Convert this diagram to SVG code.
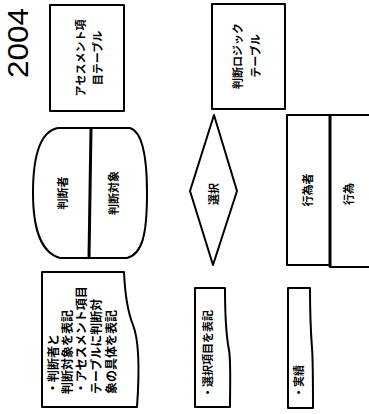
<svg xmlns="http://www.w3.org/2000/svg" width="369" height="414" viewBox="0 0 369 414">
<style>
.s{fill:#fff;stroke:#000;stroke-width:2;stroke-linejoin:round}
.t{font-family:"Noto Sans CJK JP","Noto Sans",sans-serif;font-weight:bold;font-size:11px;fill:#000;dominant-baseline:central;text-anchor:middle}
.ts{text-anchor:start}
.big{font-family:"Liberation Sans",Arial,sans-serif;font-size:29px;fill:#000}
</style>
<rect width="369" height="414" fill="#fff"/>
<text class="big" transform="translate(28,78) rotate(-90)" textLength="70" lengthAdjust="spacingAndGlyphs">2004</text>
<g id="connectors"></g>
<g id="assessment-table">
<rect class="s" x="50" y="5" width="74" height="106"/>
<text class="t" transform="translate(80,58) rotate(-90)">アセスメント項</text>
<text class="t" transform="translate(97,58) rotate(-90)">目テーブル</text>
</g>
<g id="logic-table">
<rect class="s" x="212" y="4" width="73" height="105"/>
<text class="t" transform="translate(237,56) rotate(-90)">判断ロジック</text>
<text class="t" transform="translate(255,56) rotate(-90)">テーブル</text>
</g>
<g id="judge">
<path class="s" d="M58,128 H130 C140,131 147,150 147,193 C147,236 142,254 127,258 H60 C45,254 33,236 33,193 C33,150 42,131 58,128 Z"/>
<line x1="91" y1="128" x2="89" y2="258" stroke="#000" stroke-width="3"/>
<text class="t" transform="translate(62,193) rotate(-90)">判断者</text>
<text class="t" transform="translate(113,193) rotate(-90)">判断対象</text>
</g>
<g id="select">
<polygon class="s" points="214,115 237,191 213,265 190,191"/>
<text class="t" transform="translate(213,194) rotate(-90)">選択</text>
</g>
<g id="actor">
<rect class="s" x="287" y="115" width="43" height="150"/>
<text class="t" transform="translate(307,190) rotate(-90)">行為者</text>
</g>
<g id="act">
<rect class="s" x="330" y="115" width="42" height="152"/>
<line x1="330" y1="115" x2="330" y2="267" stroke="#000" stroke-width="3"/>
<text class="t" transform="translate(348,194) rotate(-90)">行為</text>
</g>
<g id="note-judge">
<path class="s" d="M42,272 H124 C125,295 127,310 133,325 C139,340 140,365 137,407 H42 Z"/>
<text class="t ts" style="font-size:12px" transform="translate(52,394) rotate(-90)">・判断者と</text>
<text class="t ts" style="font-size:12px" transform="translate(66,394) rotate(-90)">判断対象を表記</text>
<text class="t ts" style="font-size:12px" transform="translate(80,394) rotate(-90)">・アセスメント項目</text>
<text class="t ts" style="font-size:12px" transform="translate(95,394) rotate(-90)">テーブルに判断対</text>
<text class="t ts" style="font-size:12px" transform="translate(110,394) rotate(-90)">象の具体を表記</text>
</g>
<g id="note-select">
<path class="s" d="M195,288 H225 C225,320 226,335 229,350 C231,362 230,385 230,407 H195 Z"/>
<text class="t ts" transform="translate(207,398) rotate(-90)">・選択項目を表記</text>
</g>
<g id="note-result">
<path class="s" d="M288,288 H310 C310,320 311,335 312,348 C313,360 313,385 313,408 H288 Z"/>
<text class="t ts" transform="translate(298,398) rotate(-90)">・実績</text>
</g>
</svg>
